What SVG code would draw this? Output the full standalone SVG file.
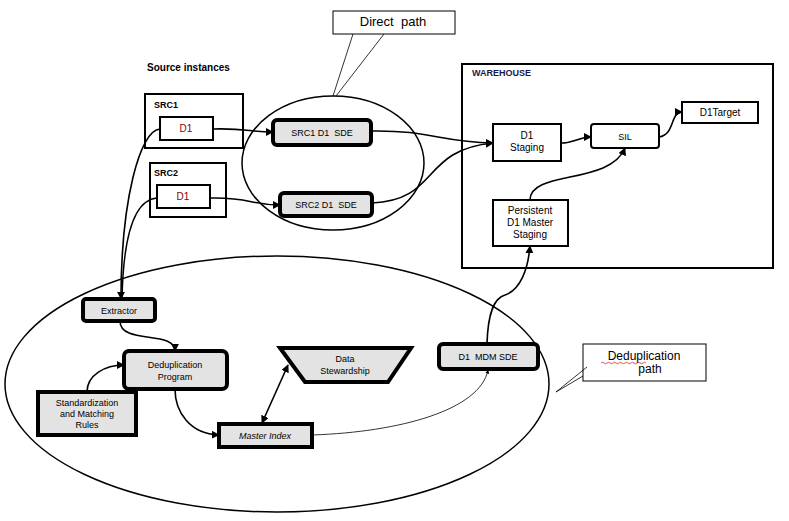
<svg xmlns="http://www.w3.org/2000/svg" width="789" height="521" viewBox="0 0 789 521" xml:space="preserve">
<defs>
<marker id="ar" viewBox="0 0 10 10" refX="9" refY="5" markerWidth="5" markerHeight="5" orient="auto-start-reverse"><path d="M0,0L10,5L0,10z" fill="#000"/></marker>
<style>
text{font-family:"Liberation Sans",Arial,sans-serif;font-size:10px;fill:#000;white-space:pre}
.b{fill:#fff;stroke:#000;stroke-width:2}
.g{fill:#e3e3e3;stroke:#000;stroke-width:4}
.e{fill:none;stroke:#000;stroke-width:1.5}
.c{fill:none;stroke:#000;stroke-width:1.6;marker-end:url(#ar)}
.t{fill:#fff;stroke:#000;stroke-width:1}
.bold{font-weight:bold}
.r{fill:#8b0000}
</style>
</defs>
<rect width="789" height="521" fill="#fff"/>
<ellipse class="e" cx="333" cy="163" rx="91" ry="67"/>
<ellipse class="e" cx="277" cy="384" rx="272" ry="128"/>
<g id="callout-direct">
<rect class="t" x="333" y="11" width="122" height="23"/>
<path d="M353,34L333,96M384,34L336,96" stroke="#000" stroke-width="0.8" fill="none"/>
<text x="393" y="26" text-anchor="middle" style="font-size:13px">Direct  path</text>
</g>
<text x="147" y="71" class="bold">Source instances</text>
<g id="src1"><rect class="b" x="145" y="94" width="98" height="54"/><text x="154" y="108" class="bold" style="font-size:9px">SRC1</text></g>
<g id="src1-d1"><rect class="b" x="160" y="117" width="53" height="23"/><text x="186" y="132" text-anchor="middle" class="r">D1</text></g>
<g id="src2"><rect class="b" x="150" y="163" width="76" height="54"/><text x="154" y="176" class="bold" style="font-size:9px">SRC2</text></g>
<g id="src2-d1"><rect class="b" x="157" y="185" width="53" height="23"/><text x="183" y="200" text-anchor="middle" class="r">D1</text></g>
<g id="src1-sde"><rect class="g" x="273" y="120" width="98" height="25" rx="4"/><text x="322" y="136" text-anchor="middle" style="font-size:9px">SRC1 D1  SDE</text></g>
<g id="src2-sde"><rect class="g" x="280" y="193" width="92" height="23" rx="4"/><text x="326" y="208" text-anchor="middle" style="font-size:9px">SRC2 D1  SDE</text></g>
<g id="warehouse"><rect class="b" x="462" y="64" width="311" height="204"/><text x="472" y="76" class="bold" style="font-size:9px;fill:#1a1a4a">WAREHOUSE</text></g>
<g id="staging"><rect class="b" x="493" y="124" width="68" height="37"/><text x="527" y="139" text-anchor="middle">D1</text><text x="527" y="151" text-anchor="middle">Staging</text></g>
<g id="sil"><rect class="b" x="591" y="124" width="68" height="24" rx="3"/><text x="625" y="140" text-anchor="middle" style="font-size:9px">SIL</text></g>
<g id="target"><rect class="b" x="682" y="102" width="76" height="21"/><text x="720" y="116" text-anchor="middle">D1Target</text></g>
<g id="persistent"><rect class="b" x="493" y="200" width="75" height="46"/><text x="530" y="214" text-anchor="middle">Persistent</text><text x="530" y="226" text-anchor="middle">D1 Master</text><text x="530" y="238" text-anchor="middle">Staging</text></g>
<g id="extractor"><rect class="g" x="83" y="299" width="72" height="22" rx="3"/><text x="119" y="314" text-anchor="middle" style="font-size:9px">Extractor</text></g>
<g id="dedup"><rect class="g" x="124" y="351" width="103" height="38" rx="5"/><text x="175" y="368" text-anchor="middle" style="font-size:9px">Deduplication</text><text x="175" y="380" text-anchor="middle" style="font-size:9px">Program</text></g>
<g id="rules"><rect class="g" x="38" y="392" width="98" height="43"/><text x="87" y="406" text-anchor="middle" style="font-size:9px">Standardization</text><text x="87" y="417" text-anchor="middle" style="font-size:9px">and Matching</text><text x="87" y="428" text-anchor="middle" style="font-size:9px">Rules</text></g>
<g id="master"><rect class="g" x="219" y="424" width="93" height="23"/><text x="265" y="439" text-anchor="middle" style="font-size:9px;font-style:italic">Master Index</text></g>
<g id="steward"><path class="g" d="M280,348L411,348L388,382L305,382Z"/><text x="345" y="362" text-anchor="middle" style="font-size:9px">Data</text><text x="345" y="374" text-anchor="middle" style="font-size:9px">Stewardship</text></g>
<g id="mdm"><rect class="g" x="439" y="344" width="99" height="25" rx="4"/><text x="488" y="360" text-anchor="middle" style="font-size:9px">D1  MDM SDE</text></g>
<g id="callout-dedup">
<rect class="t" x="583" y="344" width="123" height="37"/>
<path d="M587,367L556,392M583,376L556,392" stroke="#000" stroke-width="0.8" fill="none"/>
<text x="644" y="360" text-anchor="middle" style="font-size:12px">Deduplication</text>
<path d="M601,363q1.5,-1.5 3,0t3,0t3,0t3,0t3,0t3,0t3,0t3,0t3,0t3,0t3,0t3,0t3,0t3,0t3,0" stroke="#e00" stroke-width="0.7" fill="none"/>
<text x="650" y="373" text-anchor="middle" style="font-size:12px">path</text>
</g>
<g id="connectors">
<path class="c" d="M213,129C245,128 250,132 273,132"/>
<path class="c" d="M210,198C250,197 250,205 280,205"/>
<path class="c" d="M371,131C430,130 440,142 493,143"/>
<path class="c" d="M372,203C440,200 420,150 493,143"/>
<path class="c" d="M160,129C140,130 121,200 121,299"/>
<path class="e" d="M157,198C130,200 123,250 122,299"/>
<path class="c" d="M120,321C120,345 175,330 175,351"/>
<path class="c" d="M87,392C87,375 105,365 124,365"/>
<path class="c" d="M175,389C175,412 190,434 219,435"/>
<path class="c" d="M262,423L288,365" style="marker-start:url(#ar)"/>
<path class="c" d="M312,435C400,432 480,410 488,370" style="stroke-width:0.8"/>
<path class="c" d="M487,344C488,310 495,298 505,295C520,290 528,270 530,246"/>
<path class="c" d="M561,143C575,143 578,137 591,137"/>
<path class="c" d="M530,200C530,170 610,185 625,148"/>
<path class="c" d="M659,137C675,135 670,112 682,112"/>
</g>
</svg>
